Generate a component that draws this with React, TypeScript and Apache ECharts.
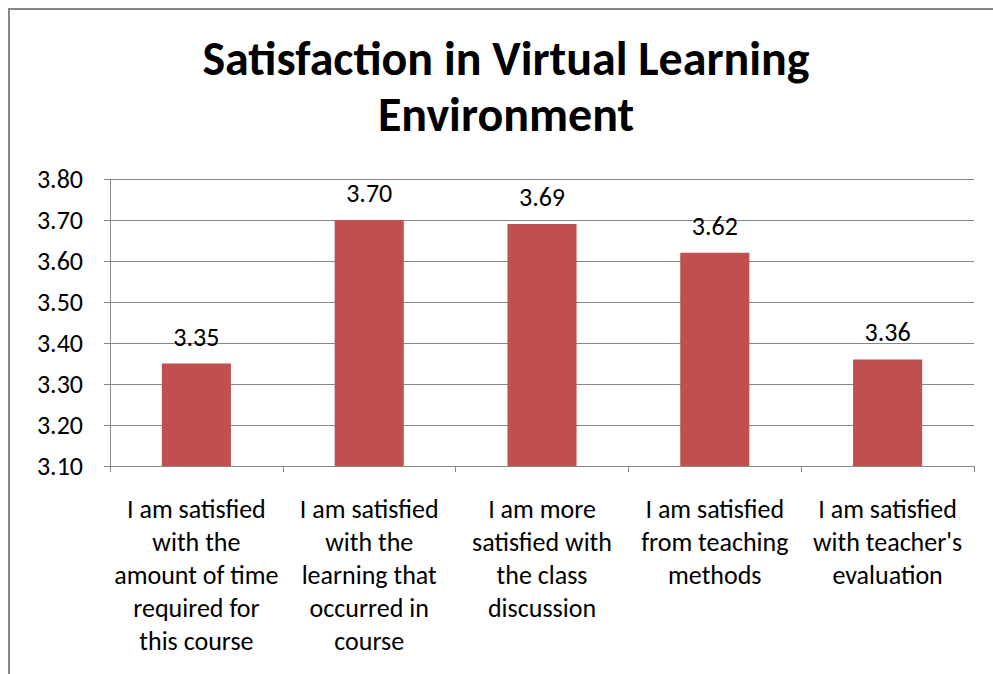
import React, { useEffect, useRef } from "react";
import * as echarts from "echarts";

const titleText = "Satisfaction in Virtual Learning\nEnvironment";
const categories = [
  "I am satisfied\nwith the\namount of time\nrequired for\nthis course",
  "I am satisfied\nwith the\nlearning that\noccurred in\ncourse",
  "I am more\nsatisfied with\nthe class\ndiscussion",
  "I am satisfied\nfrom teaching\nmethods",
  "I am satisfied\nwith teacher's\nevaluation",
];
const values = [3.35, 3.7, 3.69, 3.62, 3.36];
const yMin = 3.1;
const yMax = 3.8;
const yInterval = 0.1;

const FONT = "Carlito, 'Liberation Sans Narrow', 'Open Sans', sans-serif";
const GRAY = "#878787";

export default function App() {
  const ref = useRef<HTMLDivElement>(null);
  useEffect(() => {
    const chart = echarts.init(ref.current!, undefined, { renderer: "svg" });
    chart.setOption({
      animation: false,
      backgroundColor: "#ffffff",
      graphic: [
        {
          type: "rect",
          shape: { x: 9, y: 9, width: 1000, height: 700 },
          style: { fill: "none", stroke: GRAY, lineWidth: 2 },
        },
        {
          type: "text",
          x: 506,
          y: 30,
          style: {
            text: titleText,
            fontFamily: FONT,
            fontSize: 48,
            fontWeight: "bold",
            fill: "#000",
            lineHeight: 56,
            align: "center",
            verticalAlign: "top",
          },
        },
      ],
      grid: { left: 110, right: 19, top: 179, bottom: 208 },
      xAxis: {
        type: "category",
        data: categories,
        axisLine: { lineStyle: { color: GRAY, width: 1 } },
        axisTick: { show: true, length: 6, lineStyle: { color: GRAY } },
        axisLabel: {
          interval: 0,
          fontFamily: FONT,
          fontSize: 26,
          color: "#000",
          lineHeight: 33,
          margin: 26,
        },
      },
      yAxis: {
        type: "value",
        min: yMin,
        max: yMax,
        interval: yInterval,
        axisLine: { show: true, lineStyle: { color: GRAY, width: 1 } },
        axisTick: { show: true, length: 6, lineStyle: { color: GRAY } },
        splitLine: { lineStyle: { color: GRAY, width: 1 } },
        axisLabel: {
          formatter: (v: number) => v.toFixed(2),
          fontFamily: FONT,
          fontSize: 26,
          color: "#000",
          margin: 27,
        },
      },
      series: [
        {
          type: "bar",
          data: values,
          barWidth: "40%",
          itemStyle: { color: "#C0504D" },
          label: {
            show: true,
            position: "top",
            distance: 14,
            formatter: (p: any) => Number(p.value).toFixed(2),
            fontFamily: FONT,
            fontSize: 26,
            color: "#000",
          },
        },
      ],
    });
    return () => chart.dispose();
  }, []);
  return (
    <div
      ref={ref}
      style={{ position: "fixed", left: 0, top: 0, width: 993, height: 674 }}
    />
  );
}
